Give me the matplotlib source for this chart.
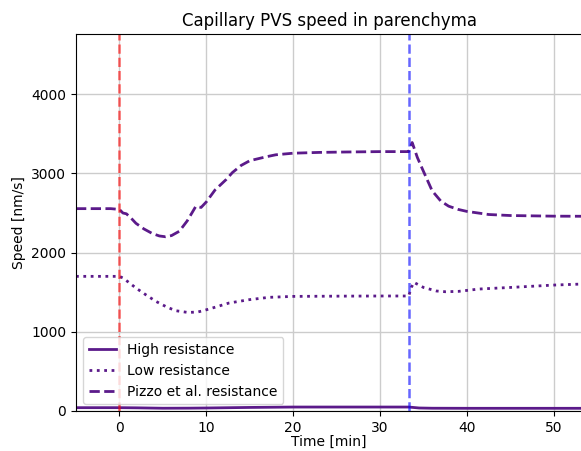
import matplotlib
matplotlib.use('Agg')
import matplotlib.pyplot as plt

# Time axis [min] and speeds [nm/s]
t_high = [-5, 0, 2, 5, 8, 10, 15, 20, 25, 33.3, 34.5, 36, 40, 45, 55]
v_high = [42, 42, 40, 35, 36, 38, 45, 50, 50, 50, 38, 35, 34, 34, 34]

t_low = [-5, 0, 0.4, 1.0, 1.9, 3.0, 4.2, 5.5, 6.5, 7.9, 9.0, 9.6, 11.0, 12.6,
         14.9, 17.2, 20, 25, 30, 33.3, 33.6, 33.9, 35.0, 36.5, 37.5, 39.0,
         41.4, 45, 50, 55]
v_low = [1700, 1700, 1680, 1630, 1553, 1470, 1384, 1310, 1266, 1244, 1250,
         1265, 1310, 1363, 1405, 1435, 1447, 1450, 1452, 1452, 1560, 1624,
         1560, 1515, 1506, 1510, 1540, 1560, 1590, 1610]

t_pizzo = [-5, -1, 0, 0.4, 0.8, 1.3, 1.9, 2.8, 3.8, 4.6, 5.3, 6.0, 6.9, 7.8,
           8.8, 9.4, 10.0, 11.0, 12.3, 13.0, 14.0, 15.0, 16.9, 18, 20, 23,
           26, 30, 33.3, 33.7, 34.3, 34.9, 36.0, 37.0, 37.9, 39.0, 40, 42.5,
           45, 50, 55]
v_pizzo = [2555, 2555, 2545, 2500, 2490, 2440, 2370, 2300, 2240, 2210, 2200,
           2215, 2270, 2400, 2585, 2570, 2640, 2790, 2924, 3010, 3100, 3160,
           3210, 3235, 3255, 3265, 3270, 3275, 3275, 3390, 3200, 3050, 2780,
           2650, 2586, 2545, 2520, 2481, 2468, 2460, 2458]

t_start = 0
t_stop = 33.3

color = '#5b1a8a'

fig = plt.figure(figsize=(5.81, 4.51), dpi=100)
ax = fig.add_axes([76/581, 40/451, 506/581, 377/451])

ax.plot(t_high, v_high, color=color, linestyle='-', lw=2, label='High resistance')
ax.plot(t_low, v_low, color=color, linestyle=':', lw=2, label='Low resistance')
ax.plot(t_pizzo, v_pizzo, color=color, linestyle='--', lw=2, label='Pizzo et al. resistance')

# start / stop markers
ax.axvline(t_start, color='red', linestyle='--', lw=1.8, alpha=0.6)
ax.axvline(t_stop, color='blue', linestyle='--', lw=1.8, alpha=0.6)

ax.set_xlim(-5, 53.25)
ax.set_ylim(0, 4760)
ax.set_xticks([0, 10, 20, 30, 40, 50])
ax.set_yticks([0, 1000, 2000, 3000, 4000])
ax.grid(True, color='#cccccc', lw=1)
ax.set_axisbelow(True)

ax.set_title('Capillary PVS speed in parenchyma')
ax.set_xlabel('Time [min]', labelpad=0)
ax.set_ylabel('Speed [nm/s]')
ax.legend(loc='lower left')

fig.savefig('out.png', dpi=100)
